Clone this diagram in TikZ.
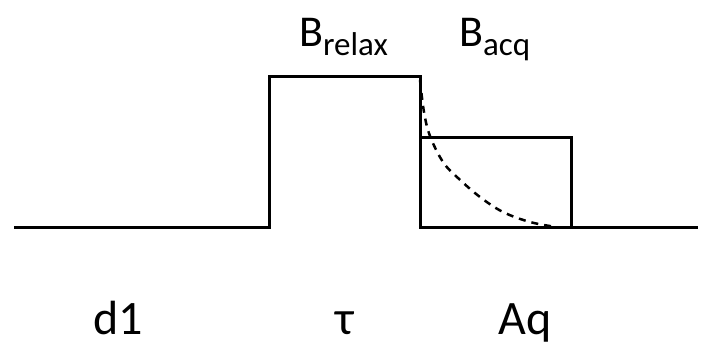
\documentclass[tikz,border=0pt]{standalone}
\usepackage{fontspec}
\setmainfont{Carlito}
\begin{document}
\begin{tikzpicture}[x=1pt,y=-1pt,
  pulse/.style={line width=3pt,line join=miter},
  decay/.style={line width=2.5pt,dash pattern=on 7pt off 6pt},
  bigtext/.style={font=\fontsize{48}{48}\selectfont,inner sep=0pt,anchor=base},
  bfield/.style={font=\fontsize{44}{44}\selectfont,inner sep=0pt,anchor=base west},
]
\useasboundingbox (0,0) rectangle (713,345);
% coordinates
\coordinate (L) at (14,227);
\coordinate (R1) at (269,227);
\coordinate (R2) at (269,77);
\coordinate (R3) at (420,77);
\coordinate (R4) at (420,227);
\coordinate (A1) at (420,137);
\coordinate (A2) at (571,137);
\coordinate (A3) at (571,227);
\coordinate (E) at (698,227);
% pulse sequence
\draw[pulse] (L) -- (R1) -- (R2) -- (R3) -- (R4) -- (E);
\draw[pulse] (A1) -- (A2) -- (A3);
% decay
\draw[decay] plot[smooth,tension=0.6] coordinates {(420,80) (424,112) (430,136) (443,162) (458,178) (480,197) (503,212) (530,222) (556,227)};
% labels
\node[bfield] (brelax) at (299,47) {B\raisebox{-9pt}{\fontsize{33}{33}\selectfont relax}};
\node[bfield] (bacq) at (459,47) {B\raisebox{-9pt}{\fontsize{33}{33}\selectfont acq}};
\node[bigtext] (d1) at (118,334) {d1};
\node[bigtext] (tau) at (345,334) {τ};
\node[bigtext] (aq) at (525,334) {Aq};
\end{tikzpicture}
\end{document}
